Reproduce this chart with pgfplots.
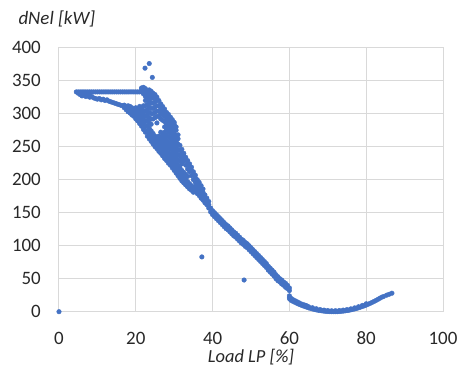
\documentclass[border=0pt]{standalone}
\usepackage{fontspec}
\setmainfont{Carlito}
\usepackage{pgfplots}
\pgfplotsset{compat=1.18}
\definecolor{exblue}{RGB}{68,114,196}
\definecolor{gridgray}{RGB}{217,217,217}
\definecolor{txtgray}{RGB}{40,40,40}
\begin{document}
\begin{tikzpicture}
\useasboundingbox (-59bp,-55bp) rectangle (402bp,311.7bp);
\begin{axis}[
  scale only axis, width=384bp, height=264bp,
  xmin=0, xmax=100, ymin=0, ymax=400,
  xtick={0,20,...,100}, ytick={0,50,...,400},
  grid=major, grid style={gridgray, line width=1bp},
  axis line style={gridgray, line width=1bp},
  major tick length=0pt,
  tick label style={font=\fontsize{19}{22}\selectfont, text=txtgray, inner sep=0pt},
  /pgf/number format/assume math mode=true,
  yticklabel style={xshift=-18bp},
  xticklabel style={yshift=-20bp},
  xlabel={Load LP [\%]},
  xlabel style={at={(axis description cs:0.5,0)}, anchor=base, yshift=-51bp, inner sep=0pt, font=\fontsize{18.5}{22}\selectfont\itshape, text=txtgray},
  clip=false,
]
\addplot[only marks, mark=*, mark size=2.3bp, exblue, mark options={fill=exblue, draw=exblue}] coordinates {
(0,0)
(4.5,333)(5,333)(5.5,333)(6,333)(6.5,333)(7,333)(7.5,333)(8,333)(8.5,333)(9,333)(9.5,333)(10,333)(10.5,333)(11,333)(11.5,333)(12,333)(12.5,333)(13,333)(13.5,333)(14,333)(14.5,333)(15,333)(15.5,333)(16,333)(16.5,333)(17,333)(17.5,333)(18,333)(18.5,333)(19,333)(19.5,333)(20,333)(20.5,333)(21,333)(21.5,333)(22,333)
(5,331)(5.5,329)(6,330)(6,327)(6.5,328)(7,326)(7,329)(7.5,327)(8,325)(8,328)(8.5,326)(9,324)(9.5,323)(10,322)(10.5,323)(11,321)(11.5,322)(12,320)(12.5,321)(13,319)(13.5,318)(14,317)(14.5,316)(15,315)(15.5,314)(16,313)(16.5,312)
(17,309)(17,313)(17.5,306)(17.5,311)
(18,303)(18,308)(18,312)(18.5,301)(18.5,306)(18.5,311)
(19,298)(19,304)(19,309)(19.5,296)(19.5,302)(19.5,307)
(20,292)(20,298)(20,304)(20,309)(20.5,289)(20.5,296)(20.5,302)(20.5,307)
(21,285)(21,292)(21,299)(21,305)(21,311)
(21.5,281)(21.5,288)(21.5,295)(21.5,302)(21.5,308)(21.5,338)
(22,276)(22,284)(22,291)(22,298)(22,305)(22,312)(22,330)(22,336)(22,340)
(22.5,272)(22.5,280)(22.5,288)(22.5,296)(22.5,304)(22.5,312)(22.5,320)(22.5,326)(22.5,332)(22.5,338)
(23,266)(23,274)(23,282)(23,290)(23,298)(23,306)(23,314)(23,322)(23,328)(23,334)
(23.5,262)(23.5,270)(23.5,278)(23.5,286)(23.5,294)(23.5,302)(23.5,310)(23.5,318)(23.5,325)(23.5,331)(23.5,336)
(24,258)(24,266)(24,274)(24,284)(24,292)(24,300)(24,308)(24,316)(24,323)(24,330)(24,334)
(24.5,254)(24.5,262)(24.5,270)(24.5,292)(24.5,300)(24.5,308)(24.5,316)(24.5,324)(24.5,331)
(25,250)(25,258)(25,266)(25,294)(25,302)(25,310)(25,318)(25,325)(25,329)
(25.5,247)(25.5,255)(25.5,263)(25.5,286)(25.5,296)(25.5,304)(25.5,312)(25.5,320)(25.5,325)
(26,243)(26,251)(26,259)(26,266)(26,296)(26,304)(26,312)(26,320)
(26.5,240)(26.5,248)(26.5,256)(26.5,264)(26.5,272)(26.5,292)(26.5,300)(26.5,308)(26.5,315)
(27,236)(27,244)(27,252)(27,260)(27,268)(27,290)(27,298)(27,305)(27,311)
(27.5,232)(27.5,240)(27.5,248)(27.5,256)(27.5,264)(27.5,272)(27.5,280)(27.5,288)(27.5,296)(27.5,302)(27.5,307)
(28,229)(28,237)(28,245)(28,253)(28,260)(28,268)(28,276)(28,284)(28,292)(28,298)(28,302)
(28.5,225)(28.5,233)(28.5,241)(28.5,249)(28.5,257)(28.5,265)(28.5,273)(28.5,281)(28.5,289)(28.5,295)(28.5,299)
(29,222)(29,230)(29,238)(29,246)(29,254)(29,262)(29,270)(29,278)(29,286)(29,292)(29,295)
(29.5,218)(29.5,226)(29.5,234)(29.5,242)(29.5,250)(29.5,258)(29.5,266)(29.5,274)(29.5,282)(29.5,288)(29.5,291)
(30,214)(30,222)(30,230)(30,238)(30,246)(30,254)(30,262)(30,270)(30,278)(30,284)(30,287)
(30.5,210)(30.5,218)(30.5,226)(30.5,234)(30.5,242)(30.5,250)(30.5,258)(30.5,266)(30.5,275)(30.5,280)
(31,206)(31,214)(31,222)(31,230)(31,238)(31,246)(31,254)(31,262)(31,268)
(31.5,202)(31.5,210)(31.5,218)(31.5,228)(31.5,236)(31.5,244)(31.5,252)
(32,198)(32,206)(32,214)(32,224)(32,232)(32,240)(32,246)
(32.5,195)(32.5,203)(32.5,211)(32.5,228)(32.5,236)(32.5,240)
(33,192)(33,200)(33,208)(33,222)(33,230)(33,234)
(33.5,189)(33.5,197)(33.5,205)(33.5,216)(33.5,224)(33.5,229)
(34,186)(34,194)(34,212)(34,220)(34,224)
(34.5,184)(34.5,191)(34.5,206)(34.5,214)(34.5,219)
(35,181)(35,188)(35,200)(35,208)(35,212)
(35.5,183)(35.5,190)(35.5,196)(35.5,203)(35.5,207)
(36,179)(36,186)(36,193)(36,200)
(36.5,176)(36.5,183)(36.5,190)(36.5,196)
(37,172)(37,179)(37,186)(37,191)
(37.5,169)(37.5,175)(37.5,181)(37.5,186)
(38,165)(38,171)(38,177)
(38.5,162)(38.5,167)(38.5,172)
(39,157)(39,162)(39,167)
(39.5,151)(39.5,157)(39.75,152)(40,147)(40,153)(40.25,149)(40.5,144)(40.5,150)(40.75,146)
(41,141)(41,147)(41.25,143)(41.5,138)(41.5,144)(41.75,140)(42,135)(42,141)(42.25,137)(42.5,132)(42.5,138)(42.75,134)
(43,129)(43,135)(43.25,131)(43.5,126)(43.5,132)(43.75,128)(44,124)(44,130)(44.25,126)(44.5,121)(44.5,127)(44.75,123)
(45,118)(45,124)(45.25,120)(45.5,115)(45.5,121)(45.75,117)(46,113)(46,119)(46.25,115)(46.5,110)(46.5,116)(46.75,112)
(47,107)(47,113)(47.25,109)(47.5,104)(47.5,110)(47.75,106)(48,102)(48,108)(48.25,104)(48.5,99)(48.5,105)(48.75,101)
(49,97)(49,103)(49.25,98)(49.5,94)(49.5,100)(49.75,96)(50,91)(50,97)(50.25,93)(50.5,88)(50.5,94)(50.75,90)
(51,85)(51,91)(51.25,87)(51.5,82)(51.5,88)(51.75,84)(52,79)(52,85)(52.25,81)(52.5,76)(52.5,82)(52.75,78)
(53,73)(53,79)(53.25,75)(53.5,70)(53.5,76)(53.75,72)(54,67)(54,73)(54.25,68)(54.5,63)(54.5,69)(54.75,65)
(55,60)(55,66)(55.25,62)(55.5,57)(55.5,63)(55.75,58)(56,54)(56,60)(56.25,55)(56.5,50)(56.5,56)(56.75,52)
(57,47)(57,53)(57.25,49)(57.5,45)(57.5,50)(57.75,46)(58,42)(58,48)(58.25,44)(58.5,40)(58.5,45)(58.75,41)
(59,37)(59,43)(59.25,39)(59.5,35)(59.5,40)(59.75,36)(60,32)(60,36)
(60,24)(60,21)(60.1,19)(60.5,16.9)(60.5,20)(61,15.4)(61,18)(61.5,14)(61.5,16.5)(62,12.6)(62,15)(62.5,11.3)(62.5,13.5)
(63,10.1)(63,12)(63.5,9)(63.5,11)(64,7.9)(64,10)(64.5,6.9)(64.5,9)(65,5.9)(65,7.5)(65.5,5)(66,4.2)(66,6)(66.5,3.5)
(67,2.8)(67,4.5)(67.5,2.2)(68,1.7)(68,3.2)(68.5,1.3)(69,0.9)(69,2.4)(69.5,0.6)(70,0.3)(70,1.8)(70.5,0.1)(71,0)(71,1.4)(71.5,0)
(72,0)(72,1.5)(72.5,0.1)(73,0.3)(73,1.8)(73.5,0.6)(74,0.9)(74,2.4)(74.5,1.3)(75,1.7)(75,3.2)(75.5,2.2)(76,2.8)(76,4.3)(76.5,3.5)
(77,4.2)(77,5.8)(77.5,5)(78,5.9)(78,7.5)(78.5,6.9)(79,7.9)(79,9.5)(79.5,9)(80,10.1)(80,12)(80.5,11.3)(81,12.6)(81.5,14)
(82,15.4)(82.5,16.9)(83,18.5)(83.5,20.2)(84,21.9)(84.5,23)(85.3,25)(86,26.5)(86.7,28)
(21.5,339)(22.4,369)(23.5,376)(24.3,355)
(37.2,83)(48.2,48)
};
\end{axis}
\node[anchor=base west, font=\fontsize{19}{22}\selectfont\itshape, text=txtgray] at (-44bp,286.7bp) {dNel [kW]};
\end{tikzpicture}
\end{document}
